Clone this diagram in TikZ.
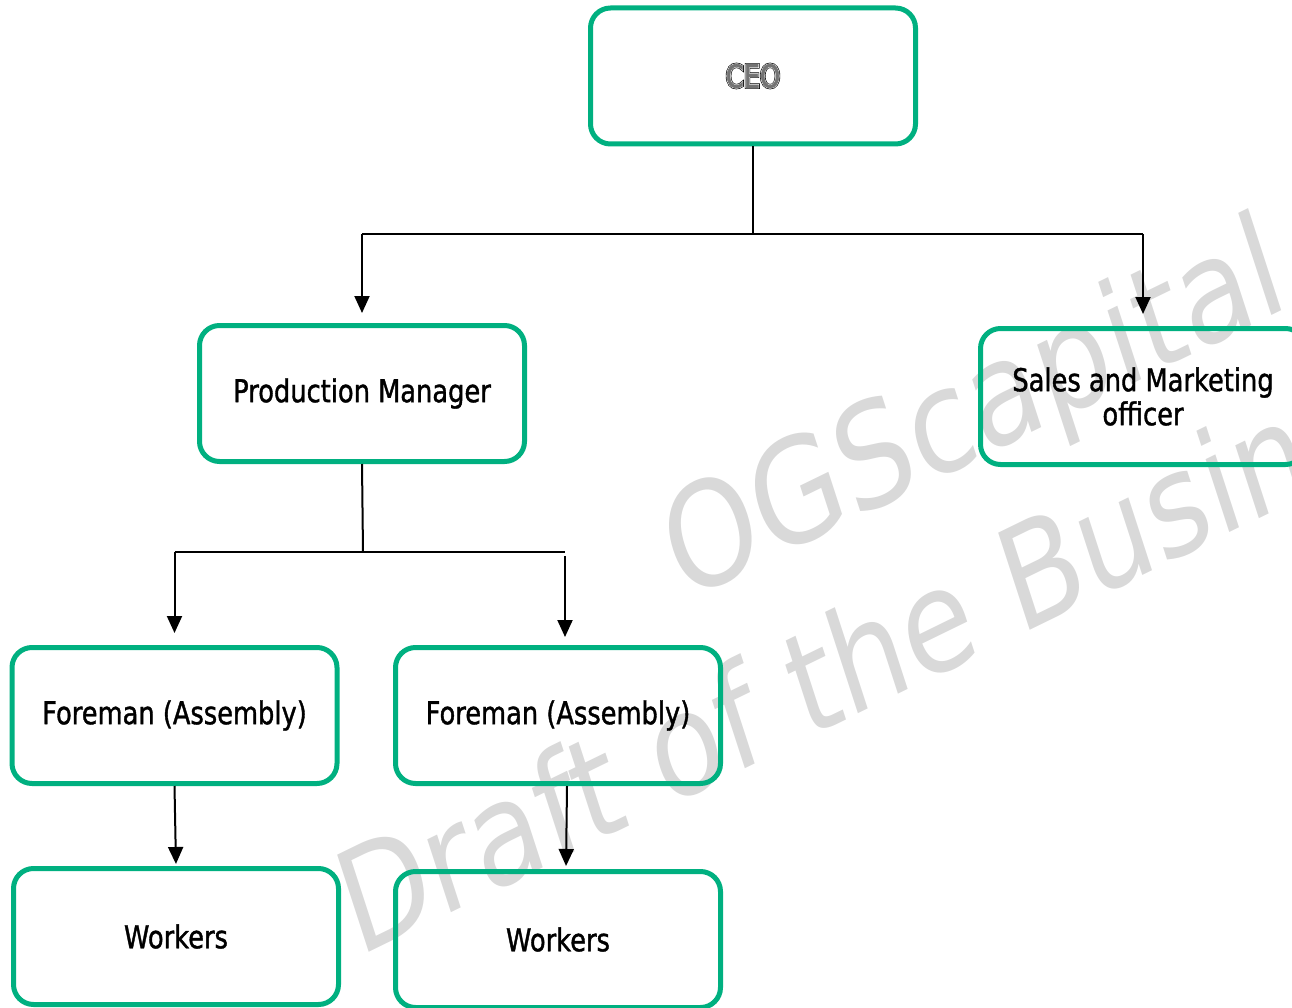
\documentclass[tikz,border=0pt]{standalone}
\usepackage{fontspec}
\setmainfont{DejaVu Sans}[FakeStretch=0.816,FakeBold=1.2]
\newfontfamily\markfont{DejaVu Sans}
\newfontfamily\ceoouter{DejaVu Sans}[FakeStretch=0.816,FakeBold=9]
\newfontfamily\ceomid{DejaVu Sans}[FakeStretch=0.816,FakeBold=5]
\newfontfamily\ceoinner{DejaVu Sans}[FakeStretch=0.816,FakeBold=2]
\usepackage{xcolor}
\usetikzlibrary{arrows.meta}

\definecolor{boxgreen}{RGB}{0,176,128}
\definecolor{markgray}{RGB}{217,217,217}
\newcommand{\ceolabel}[1]{\rlap{\ceoouter #1}\rlap{\color{white}\ceomid #1}\textcolor{black!55}{\ceoinner #1}}

\begin{document}
\begin{tikzpicture}[x=1pt,y=-1pt,
  org node/.style={draw=boxgreen,line width=5pt,rounded corners=20pt,
    minimum width=325pt,minimum height=136pt,inner sep=0pt,align=center,
    font=\fontsize{31.5}{34}\selectfont},
  mark text/.style={text=markgray,inner sep=0pt,anchor=base west,
    yscale=1.226,rotate=21.7},
  bus line/.style={line width=2pt},
  down arrow/.style={line width=2pt,-{Triangle[width=15pt,length=17pt]},shorten >=10pt}]

  \useasboundingbox (0,0) rectangle (1292,1008);
  \clip (0,0) rectangle (1292,1008);

  % watermark
  \node[mark text,font=\markfont\fontsize{118}{118}\selectfont] (mark top) at (683,603) {OGScapital};
  \node[mark text,font=\markfont\fontsize{117}{117}\selectfont] (mark bottom) at (358,958) {Draft of the Busin};

  \node[org node] (ceo) at (753,76) {\ceolabel{CEO}};
  \node[org node] (pm) at (362,393.5) {Production Manager};
  \node[org node] (sm) at (1143,396.5) {Sales and Marketing\\officer};
  \node[org node] (fl) at (174.5,715.5) {Foreman (Assembly)};
  \node[org node] (fr) at (558,715.5) {Foreman (Assembly)};
  \node[org node] (wl) at (176,936.5) {Workers};
  \node[org node] (wr) at (558,939.5) {Workers};

  \coordinate (ceo bus) at (753,234);
  \coordinate (pm bus) at (363,552);
  \coordinate (fr drop) at (565,552);

  \draw[bus line] (ceo.south) -- (ceo bus);
  \draw[bus line] (pm.north |- ceo bus) -- (sm.north |- ceo bus);
  \draw[down arrow] (pm.north |- ceo bus) -- (pm.north);
  \draw[down arrow,shorten >=12pt] (sm.north |- ceo bus) -- (sm.north);

  \draw[bus line] (pm.south) -- (pm bus);
  \draw[bus line] (fl.north |- pm bus) -- (fr drop);
  \draw[down arrow,shorten >=12pt] (fl.north |- pm bus) -- (fl.north);
  \draw[down arrow,shorten <=4pt,shorten >=8pt] (fr drop) -- (fr.north -| fr drop);

  \draw[down arrow,shorten >=2pt] (fl.south) -- (wl.north);
  \draw[down arrow,shorten >=3pt] ([xshift=9pt]fr.south) -- ([xshift=8pt]wr.north);

\end{tikzpicture}
\end{document}
